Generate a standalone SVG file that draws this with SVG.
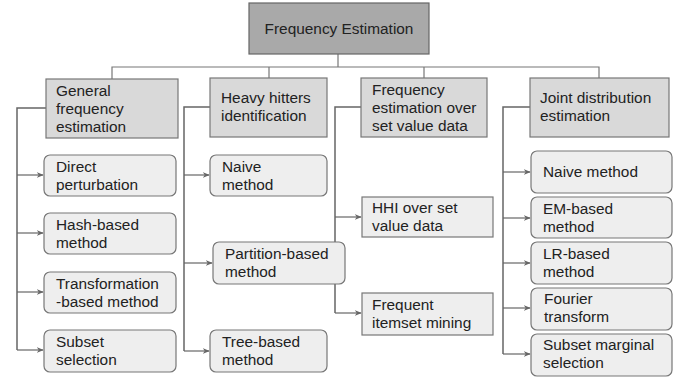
<svg xmlns="http://www.w3.org/2000/svg" width="680" height="377" viewBox="0 0 680 377">
  <style>
    text { font-family: "Liberation Sans", Arial, sans-serif; font-size: 15.4px; fill: #222; }
    .root { fill: #a9a9a9; stroke: #666; stroke-width: 1.2; }
    .cat { fill: #d9d9d9; stroke: #777; stroke-width: 1.2; }
    .leaf { fill: #eeeeee; stroke: #777; stroke-width: 1.2; }
    .tree { fill: none; stroke: #777; stroke-width: 1.2; }
    .trunk { fill: none; stroke: #666; stroke-width: 1.5; }
    .arrow { fill: none; stroke: #666; stroke-width: 1.2; marker-end: url(#head); }
  </style>
  <defs>
    <marker id="head" viewBox="0 0 10 10" refX="9" refY="5" markerWidth="7" markerHeight="7" markerUnits="userSpaceOnUse" orient="auto">
      <path d="M0,1 L10,5 L0,9 L3,5 Z" fill="#666"/>
    </marker>
  </defs>

  <!-- connectors -->
  <g id="connectors">
    <!-- top-level tree -->
    <path class="tree" d="M338,54 V67 M112,79 V67 H599 V78 M269,67 V78 M424,67 V78"/>

    <!-- General frequency estimation -->
    <path class="trunk" d="M46,108 H17 V350"/>
    <path class="arrow" d="M17,175 H43"/>
    <path class="arrow" d="M17,233 H43"/>
    <path class="arrow" d="M17,292 H43"/>
    <path class="arrow" d="M17,350 H43"/>

    <!-- Heavy hitters identification -->
    <path class="trunk" d="M210,107 H184 V351"/>
    <path class="arrow" d="M184,175 H209"/>
    <path class="arrow" d="M184,263 H212"/>
    <path class="arrow" d="M184,351 H209"/>

    <!-- Frequency estimation over set value data -->
    <path class="trunk" d="M361,107 H335 V313"/>
    <path class="arrow" d="M335,217 H361"/>
    <path class="arrow" d="M335,313 H361"/>

    <!-- Joint distribution estimation -->
    <path class="trunk" d="M530,107 H503 V354"/>
    <path class="arrow" d="M503,172 H530"/>
    <path class="arrow" d="M503,218 H530"/>
    <path class="arrow" d="M503,263 H530"/>
    <path class="arrow" d="M503,308 H530"/>
    <path class="arrow" d="M503,354 H530"/>
  </g>

  <!-- root -->
  <g id="frequency-estimation">
    <rect class="root" x="249" y="3" width="180" height="51"/>
    <text x="339" y="34" text-anchor="middle">Frequency Estimation</text>
  </g>

  <!-- categories -->
  <g id="general-frequency-estimation">
    <rect class="cat" x="46" y="79" width="132" height="59"/>
    <text x="56" y="96">General</text>
    <text x="56" y="114">frequency</text>
    <text x="56" y="132">estimation</text>
  </g>
  <g id="heavy-hitters-identification">
    <rect class="cat" x="210" y="78" width="117" height="59"/>
    <text x="221" y="103">Heavy hitters</text>
    <text x="221" y="121">identification</text>
  </g>
  <g id="frequency-estimation-set-value">
    <rect class="cat" x="361" y="78" width="126" height="59"/>
    <text x="372" y="95">Frequency</text>
    <text x="372" y="113">estimation over</text>
    <text x="372" y="131">set value data</text>
  </g>
  <g id="joint-distribution-estimation">
    <rect class="cat" x="530" y="78" width="139" height="59"/>
    <text x="540" y="103">Joint distribution</text>
    <text x="540" y="121">estimation</text>
  </g>

  <!-- general frequency estimation methods -->
  <g id="direct-perturbation">
    <rect class="leaf" x="44" y="155" width="132" height="41" rx="6"/>
    <text x="56" y="172">Direct</text>
    <text x="56" y="190">perturbation</text>
  </g>
  <g id="hash-based-method">
    <rect class="leaf" x="44" y="213" width="132" height="41" rx="6"/>
    <text x="56" y="230">Hash-based</text>
    <text x="56" y="248">method</text>
  </g>
  <g id="transformation-based-method">
    <rect class="leaf" x="44" y="272" width="132" height="41" rx="6"/>
    <text x="56" y="289">Transformation</text>
    <text x="56" y="307">-based method</text>
  </g>
  <g id="subset-selection">
    <rect class="leaf" x="44" y="330" width="132" height="42" rx="6"/>
    <text x="56" y="347">Subset</text>
    <text x="56" y="365">selection</text>
  </g>

  <!-- heavy hitters methods -->
  <g id="naive-method-hh">
    <rect class="leaf" x="210" y="155" width="117" height="41" rx="6"/>
    <text x="222" y="172">Naive</text>
    <text x="222" y="190">method</text>
  </g>
  <g id="partition-based-method">
    <rect class="leaf" x="213" y="242" width="132" height="42" rx="6"/>
    <text x="225" y="259">Partition-based</text>
    <text x="225" y="277">method</text>
  </g>
  <g id="tree-based-method">
    <rect class="leaf" x="210" y="330" width="117" height="42" rx="6"/>
    <text x="222" y="347">Tree-based</text>
    <text x="222" y="365">method</text>
  </g>

  <!-- set value data methods -->
  <g id="hhi-over-set-value-data">
    <rect class="leaf" x="362" y="197" width="131" height="40"/>
    <text x="372" y="213">HHI over set</text>
    <text x="372" y="231">value data</text>
  </g>
  <g id="frequent-itemset-mining">
    <rect class="leaf" x="362" y="293" width="131" height="42"/>
    <text x="372" y="310">Frequent</text>
    <text x="372" y="328">itemset mining</text>
  </g>

  <!-- joint distribution methods -->
  <g id="naive-method-joint">
    <rect class="leaf" x="531" y="151" width="141" height="42" rx="6"/>
    <text x="543" y="177">Naive method</text>
  </g>
  <g id="em-based-method">
    <rect class="leaf" x="531" y="197" width="141" height="41" rx="6"/>
    <text x="543" y="214">EM-based</text>
    <text x="543" y="232">method</text>
  </g>
  <g id="lr-based-method">
    <rect class="leaf" x="531" y="242" width="141" height="42" rx="6"/>
    <text x="543" y="259">LR-based</text>
    <text x="543" y="277">method</text>
  </g>
  <g id="fourier-transform">
    <rect class="leaf" x="531" y="288" width="141" height="42" rx="6"/>
    <text x="544" y="304">Fourier</text>
    <text x="544" y="322">transform</text>
  </g>
  <g id="subset-marginal-selection">
    <rect class="leaf" x="531" y="334" width="141" height="42" rx="6"/>
    <text x="543" y="350">Subset marginal</text>
    <text x="543" y="368">selection</text>
  </g>
</svg>
